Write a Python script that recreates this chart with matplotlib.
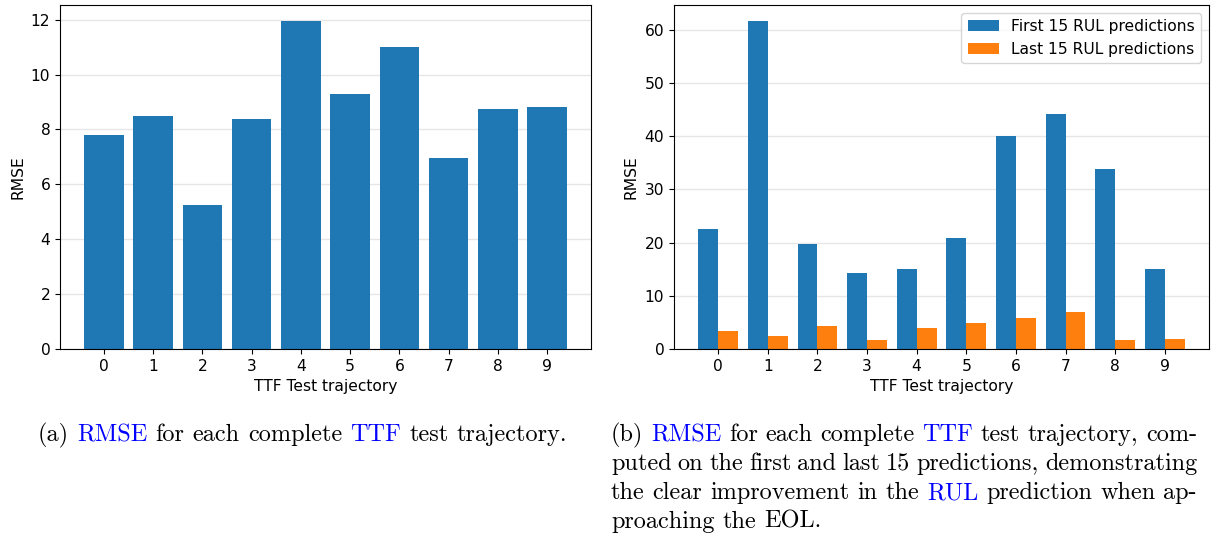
import matplotlib
matplotlib.use('Agg')
import matplotlib.pyplot as plt
import numpy as np

trajectories = list(range(10))
rmse_complete = [7.8, 8.5, 5.26, 8.37, 11.94, 9.31, 10.99, 6.96, 8.74, 8.81]
rmse_first15 = [22.6, 61.6, 19.8, 14.3, 14.95, 20.8, 40.0, 44.2, 33.8, 14.95]
rmse_last15 = [3.38, 2.38, 4.26, 1.63, 3.94, 4.94, 5.82, 6.88, 1.63, 1.94]
xlabel = 'TTF Test trajectory'
ylabel = 'RMSE'
legend_labels = ['First 15 RUL predictions', 'Last 15 RUL predictions']

BLUE = '#1f77b4'
ORANGE = '#ff7f0e'
LINK = '#0000ff'
TFS = 11.2

W, H = 1230, 538
fig = plt.figure(figsize=(W / 100, H / 100), dpi=100)
ax1 = fig.add_axes([60 / W, 1 - 349 / H, 531 / W, 344 / H])
ax2 = fig.add_axes([674 / W, 1 - 349 / H, 535 / W, 344 / H])

x = np.arange(len(trajectories))
ax1.bar(x, rmse_complete, width=0.8, color=BLUE, zorder=2)
ax2.bar(x - 0.2, rmse_first15, width=0.4, color=BLUE, label=legend_labels[0], zorder=2)
ax2.bar(x + 0.2, rmse_last15, width=0.4, color=ORANGE, label=legend_labels[1], zorder=2)

for ax in (ax1, ax2):
    ax.set_xticks(x)
    ax.set_xticklabels([str(t) for t in trajectories])
    ax.set_xlabel(xlabel, fontsize=TFS)
    ax.set_ylabel(ylabel, fontsize=TFS)
    ax.tick_params(labelsize=TFS)
    ax.grid(axis='y', color='#e6e6e6', linewidth=1)
    ax.set_axisbelow(True)

ax2.legend(loc='upper right', fontsize=TFS)

# ---- captions ----
renderer = fig.canvas.get_renderer()
FS = 17.5
FAM = 'cmr10'


def width_of(s):
    t = fig.text(0, 0, s, fontsize=FS, family=FAM)
    w = t.get_window_extent(renderer).width
    t.remove()
    return w


space_w = width_of('a a') - width_of('aa')


def draw_line(words, x0, y_base, x1=None):
    widths = [width_of(w) for w, _ in words]
    if x1 is not None and len(words) > 1:
        gap = (x1 - x0 - sum(widths)) / (len(words) - 1)
    else:
        gap = space_w
    xp = x0
    for (w, c), wd in zip(words, widths):
        fig.text(xp / W, 1 - y_base / H, w, fontsize=FS, family=FAM, color=c,
                 va='baseline', ha='left')
        xp += wd + gap


def words_of(segments):
    out = []
    for s, c in segments:
        for w in s.split():
            out.append((w, c))
    return out


K = 'black'
cap_a = [('(a)', K), ('RMSE', LINK), ('for each complete', K), ('TTF', LINK),
         ('test trajectory.', K)]
draw_line(words_of(cap_a), 38, 441)

cap_b = [
    [('(b)', K), ('RMSE', LINK), ('for each complete', K), ('TTF', LINK),
     ('test trajectory, com-', K)],
    [('puted on the first and last 15 predictions, demonstrating', K)],
    [('the clear improvement in the', K), ('RUL', LINK), ('prediction when ap-', K)],
    [('proaching the EOL.', K)],
]
for i, seg in enumerate(cap_b):
    yb = 441 + 29 * i
    if i < len(cap_b) - 1:
        draw_line(words_of(seg), 611, yb, 1197)
    else:
        draw_line(words_of(seg), 611, yb)

fig.savefig('out.png', dpi=100)
